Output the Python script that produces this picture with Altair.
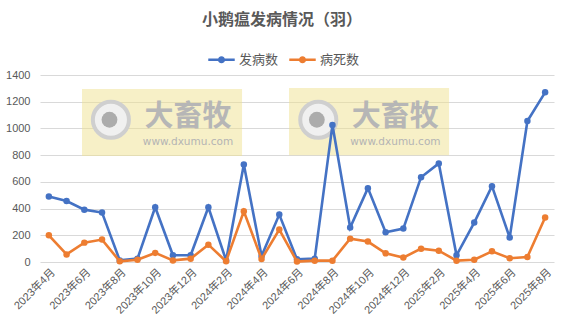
import altair as alt
import pandas as pd

months = ["2023年4月", "2023年5月", "2023年6月", "2023年7月", "2023年8月", "2023年9月",
          "2023年10月", "2023年11月", "2023年12月", "2024年1月", "2024年2月", "2024年3月",
          "2024年4月", "2024年5月", "2024年6月", "2024年7月", "2024年8月", "2024年9月",
          "2024年10月", "2024年11月", "2024年12月", "2025年1月", "2025年2月", "2025年3月",
          "2025年4月", "2025年5月", "2025年6月", "2025年7月", "2025年8月"]
incidence = [490, 457, 392, 370, 12, 25, 410, 50, 50, 410, 12, 730, 45, 355, 20, 25,
             1025, 258, 553, 222, 250, 635, 738, 50, 295, 568, 183, 1055, 1270]
deaths = [200, 57, 145, 168, 5, 17, 68, 12, 25, 130, 5, 380, 22, 243, 3, 10,
          10, 175, 153, 65, 33, 100, 85, 10, 17, 80, 28, 38, 333]
series_names = ["发病数", "病死数"]
series_colors = ["#4472C4", "#ED7D31"]

rows = []
for i, m in enumerate(months):
    rows.append({"idx": i, "month": m, "series": series_names[0], "value": incidence[i]})
for i, m in enumerate(months):
    rows.append({"idx": i, "month": m, "series": series_names[1], "value": deaths[i]})
df = pd.DataFrame(rows)

# watermark decoration (in data units)
wm = pd.DataFrame({"x0": [1.87, 13.55], "x1": [10.9, 22.58],
                   "y0": [793, 800], "y1": [1295, 1303],
                   "lx": [3.5, 15.2], "tx": [7.85, 19.55]})

FONT = "Liberation Sans, Noto Sans CJK SC"
label_expr = "[" + ",".join("'" + m + "'" for m in months) + "][datum.value]"

xscale = alt.Scale(domain=[-0.5, len(months) - 0.5], nice=False, zero=False)
yscale = alt.Scale(domain=[0, 1400], nice=False)
xaxis = alt.Axis(values=list(range(0, len(months), 2)), labelExpr=label_expr, labelAngle=-45,
                 grid=False, domain=False, ticks=False, labelPadding=4, labelFontSize=11,
                 labelColor="#595959", labelFont=FONT, title=None, labelOverlap=False,
                 labelBound=False, labelFlush=False)
yaxis = alt.Axis(values=list(range(0, 1401, 200)), grid=True, gridColor="#d9d9d9", domain=False,
                 ticks=False, labelPadding=10, labelFontSize=11, labelColor="#595959",
                 labelFont=FONT, title=None, format="d", labelOverlap=False)


def X(field):
    return alt.X(field, type="quantitative", scale=xscale, axis=xaxis)


def Y(field):
    return alt.Y(field, type="quantitative", scale=yscale, axis=yaxis)


rect = alt.Chart(wm).mark_rect(color="#f0e290", opacity=0.5).encode(
    x=X("x0"), x2="x1", y=Y("y0"), y2="y1")
ring = alt.Chart(wm).mark_point(shape="circle", size=1300, filled=False, fill="#f0f0f0",
                                stroke="#cfcfcf", strokeWidth=4, opacity=1).transform_calculate(
    yc="1065").encode(x=X("lx"), y=Y("yc"))
dot = alt.Chart(wm).mark_point(shape="circle", size=250, filled=True, color="#acacac",
                               opacity=1).transform_calculate(
    yc="1065", xc="datum.lx - 0.08").encode(x=X("xc"), y=Y("yc"))
big = alt.Chart(wm).mark_text(text="大畜牧", fontSize=29, fontWeight="bold", color="#b6b6b6",
                              font="Noto Sans CJK SC").transform_calculate(
    yc="1085").encode(x=X("tx"), y=Y("yc"))
small = alt.Chart(wm).mark_text(text="www.dxumu.com", fontSize=10.5, color="#b4b4b4",
                                font="DejaVu Sans").transform_calculate(
    yc="900").encode(x=X("tx"), y=Y("yc"))

legend_path = ("M-1,-0.09L1,-0.09L1,0.09L-1,0.09Z "
               "M0.27,0A0.27,0.27 0 1,1 -0.27,0A0.27,0.27 0 1,1 0.27,0Z")
color = alt.Color("series:N", scale=alt.Scale(domain=series_names, range=series_colors),
                  legend=alt.Legend(title=None, orient="none", direction="horizontal",
                                    legendX=168, legendY=-29, symbolType=legend_path,
                                    symbolSize=700, labelFontSize=13, labelColor="#595959",
                                    labelFont=FONT, columnPadding=10, labelOffset=4, padding=0,
                                    symbolOpacity=1, symbolStrokeWidth=0))

layers = [rect, ring, dot, big, small]
for s, c in zip(series_names, series_colors):
    base = alt.Chart(df).transform_filter(alt.datum.series == s).encode(
        x=X("idx"), y=Y("value"))
    layers.append(base.mark_line(strokeWidth=2.6, color=c))
    layers.append(base.mark_circle(size=42, opacity=1).encode(color=color))

chart = alt.layer(*layers).properties(
    width=514, height=187,
    title=alt.TitleParams("小鹅瘟发病情况（羽）", anchor="middle", dx=-15, offset=18,
                          fontSize=16, fontWeight="bold", color="#595959", font="Noto Sans CJK SC"),
    autosize=alt.AutoSizeParams(type="none"),
    padding={"left": 40, "top": 75, "right": 9, "bottom": 67},
).configure_view(stroke=None)

chart.save("out.html", embed_options={"renderer": "svg", "actions": False})
